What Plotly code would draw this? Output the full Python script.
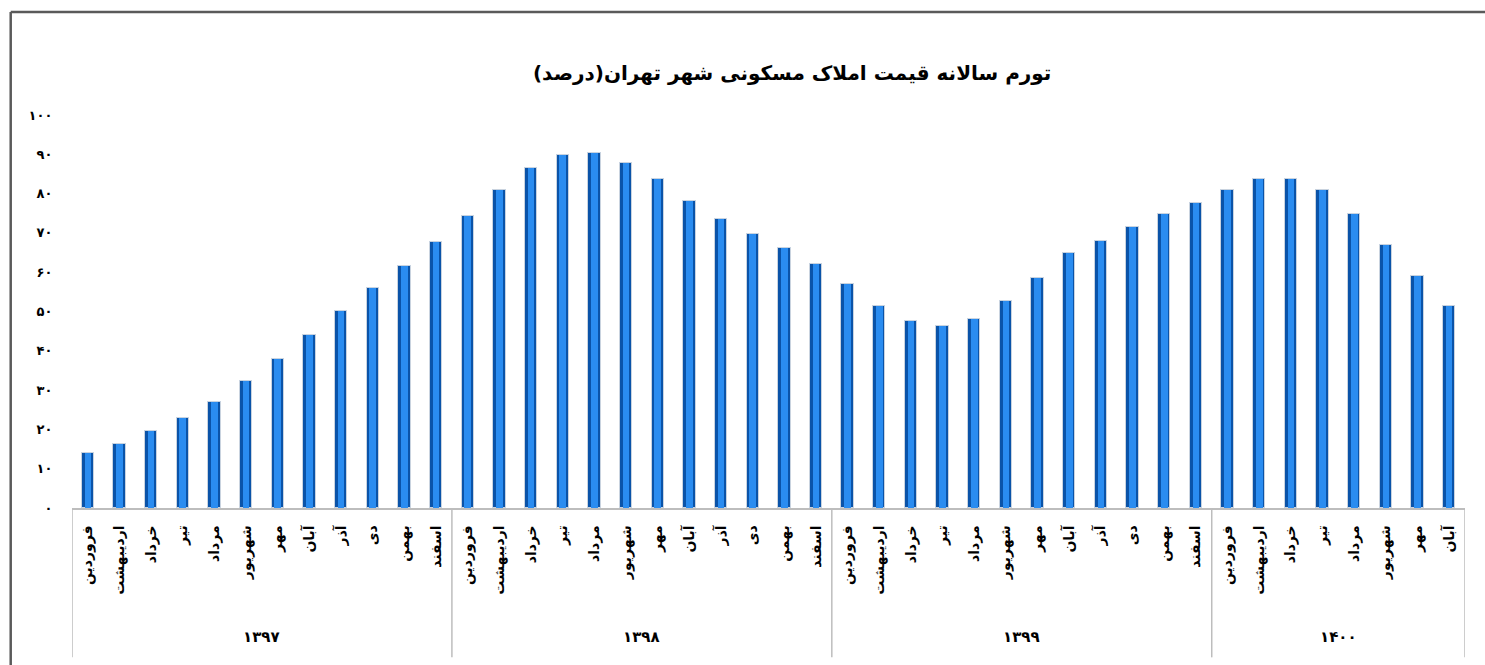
import plotly.graph_objects as go

years = ["۱۳۹۷", "۱۳۹۸", "۱۳۹۹", "۱۴۰۰"]
months = ["فروردین", "اردیبهشت", "خرداد", "تیر", "مرداد", "شهریور",
          "مهر", "آبان", "آذر", "دی", "بهمن", "اسفند"]
months_per_year = [12, 12, 12, 8]

values_1397 = [14.0, 16.2, 19.5, 23.0, 27.1, 32.2, 38.0, 44.1, 50.2, 56.1, 61.7, 67.8]
values_1398 = [74.3, 81.0, 86.5, 89.8, 90.4, 87.8, 83.6, 78.1, 73.6, 69.8, 66.2, 62.0]
values_1399 = [56.9, 51.4, 47.5, 46.2, 48.2, 52.7, 58.5, 64.9, 67.9, 71.4, 74.9, 77.7]
values_1400 = [81.0, 83.6, 83.6, 81.0, 74.9, 66.8, 59.1, 51.4]

y_tick_vals = [0, 10, 20, 30, 40, 50, 60, 70, 80, 90, 100]
y_tick_text = ["۰", "۱۰", "۲۰", "۳۰", "۴۰", "۵۰", "۶۰", "۷۰", "۸۰", "۹۰", "۱۰۰"]

title_text = "تورم سالانه قیمت املاک مسکونی شهر تهران(درصد)"

values = values_1397 + values_1398 + values_1399 + values_1400
labels = []
for n in months_per_year:
    labels += months[:n]
xs = list(range(len(values)))

FONT = "DejaVu Sans"

fig = go.Figure()
fig.add_trace(go.Bar(x=xs, y=values, width=0.39,
                     marker=dict(color="#0a53a8", line=dict(color="#c9d3df", width=1)),
                     hoverinfo="y"))
fig.add_trace(go.Bar(x=xs, y=values, width=0.21,
                     marker=dict(color="#2a8cf0", line=dict(width=0)),
                     hoverinfo="skip"))

# group dividers and year labels
bounds = [-0.5]
for n in months_per_year:
    bounds.append(bounds[-1] + n)
shapes = []
annotations = []
for b in bounds:
    shapes.append(dict(type="line", xref="x", yref="paper", x0=b, x1=b,
                       y0=0, y1=-0.38, line=dict(color="#bdbdbd", width=1.5)))
for i, yr in enumerate(years):
    annotations.append(dict(x=(bounds[i] + bounds[i + 1]) / 2, y=-0.327,
                            xref="x", yref="paper", text="<b>" + yr + "</b>",
                            showarrow=False,
                            font=dict(family=FONT, size=15, color="black"),
                            xanchor="center", yanchor="middle"))

# outer chart frame (top and left edges visible)
shapes.append(dict(type="line", xref="paper", yref="paper",
                   x0=-0.044, x1=1.2, y0=1.262, y1=1.262,
                   line=dict(color="#5a5a5a", width=2.5)))
shapes.append(dict(type="line", xref="paper", yref="paper",
                   x0=-0.044, x1=-0.044, y0=-1.0, y1=1.262,
                   line=dict(color="#5a5a5a", width=2.5)))

fig.update_layout(
    width=1485, height=665,
    margin=dict(l=72, r=20, t=115, b=157),
    barmode="overlay",
    bargap=0,
    showlegend=False,
    plot_bgcolor="white",
    paper_bgcolor="white",
    title=dict(text="<b>" + title_text + "</b>", x=0.517, xref="paper",
               xanchor="center", y=1 - 73 / 665, yref="container",
               yanchor="middle",
               font=dict(family=FONT, size=20, color="black")),
    xaxis=dict(range=[-0.5, len(values) - 0.5], tickmode="array",
               tickvals=xs, ticktext=["<b>" + t + "</b>" for t in labels],
               tickangle=-90,
               showline=True, linecolor="#bdbdbd", linewidth=1.5,
               showgrid=False, zeroline=False, ticks="outside",
               ticklen=10, tickcolor="rgba(0,0,0,0)",
               tickfont=dict(family=FONT, size=14, color="black")),
    yaxis=dict(range=[0, 100], tickmode="array", tickvals=y_tick_vals,
               ticktext=["<b>" + t + "</b>" for t in y_tick_text],
               showgrid=False, zeroline=False,
               showline=False, ticks="outside", ticklen=16,
               tickcolor="rgba(0,0,0,0)",
               tickfont=dict(family=FONT, size=13, color="black")),
    shapes=shapes,
    annotations=annotations,
)

fig.write_html("out.html", config={"displayModeBar": False},
               post_script="document.body.style.margin='0';document.body.style.overflow='hidden';")
